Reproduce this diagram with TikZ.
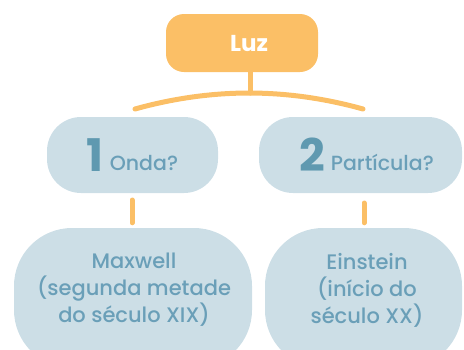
\documentclass[tikz,border=0pt]{standalone}
\usepackage{fontspec}
\setmainfont{Poppins}[UprightFont=* Medium, BoldFont=* Bold]
\definecolor{luzorange}{HTML}{FBBF66}
\definecolor{boxblue}{HTML}{CCDEE6}
\definecolor{txtblue}{HTML}{6A9FB8}
\definecolor{numblue}{HTML}{5F99B0}
\tikzset{
  blueblob/.style={fill=boxblue, draw=none, text=txtblue, align=center},
  link/.style={draw=luzorange, line width=5pt, line cap=round},
}
\begin{document}
\begin{tikzpicture}[x=1pt,y=1pt]
\useasboundingbox (0,0) rectangle (464,-349);
% top
\node[fill=luzorange, rounded corners=18pt, minimum width=152pt, minimum height=58pt, text=white, font=\bfseries\fontsize{23}{26}\selectfont] (luz) at (242,-43) {\hspace*{14pt}Luz};
% middle
\node[blueblob, rounded corners=34pt, minimum width=171pt, minimum height=76pt, font=\fontsize{20.5}{22}\selectfont] (b1) at (132.5,-155)
  {{\fontsize{45}{45}\selectfont\bfseries\color{numblue}1}\hspace{6pt}\raisebox{1pt}{Onda?}};
\node[blueblob, rounded corners=34pt, minimum width=203pt, minimum height=76pt, font=\fontsize{20.5}{22}\selectfont] (b2) at (360.5,-155)
  {\hspace*{12pt}{\fontsize{45}{45}\selectfont\bfseries\color{numblue}2}\hspace{6pt}\raisebox{1pt}{Partícula?}};
% bottom
\node[blueblob, rounded corners=58pt, minimum width=238pt, minimum height=140pt] (b3) at (133,-298) {};
\node[blueblob, rounded corners=58pt, minimum width=197pt, minimum height=140pt] (b4) at (363.5,-298) {};
\node[text=txtblue, align=center, font=\fontsize{21}{27}\selectfont] (t3) at (134,-290) {Maxwell\\(segunda metade\\do século XIX)};
\node[text=txtblue, align=center, font=\fontsize{21}{27}\selectfont] (t4) at (367,-290) {Einstein\\(início do\\século XX)};
% connectors
\coordinate (arcT) at (250,-93);
\coordinate (arcL) at (135,-109);
\coordinate (arcR) at (363,-109);
\draw[link] (luz.south -| arcT) -- (arcT);
\draw[link] (arcL) .. controls (211.7,-87.7) and (286.3,-87.7) .. (arcR);
\coordinate (s1) at (132,-193);
\coordinate (s2) at (364,-193);
\draw[link, shorten <=7pt, shorten >=5pt] (s1) -- (s1 |- b3.north);
\draw[link, shorten <=10pt, shorten >=5pt] (s2) -- (s2 |- b4.north);
\end{tikzpicture}
\end{document}
